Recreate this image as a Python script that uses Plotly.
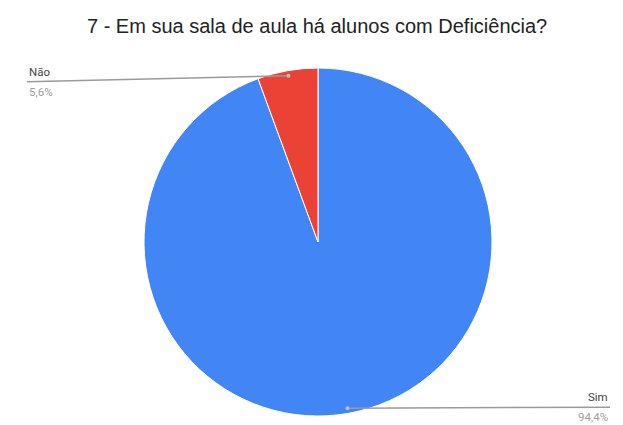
import math
import plotly.graph_objects as go

# Survey answers
labels = ["Sim", "Não"]
values = [94.4, 5.6]
value_text = ["94,4%", "5,6%"]
colors = ["#4285F4", "#EA4335"]

W, H = 623, 425
CX, CY, R = 318, 242, 174  # pie centre / radius in pixels

fig = go.Figure(go.Pie(
    labels=labels, values=values, sort=False, direction="clockwise", rotation=0,
    marker=dict(colors=colors, line=dict(color="white", width=1)),
    textinfo="none", hoverinfo="none", showlegend=False,
    domain=dict(x=[(CX - R) / W, (CX + R) / W], y=[(H - CY - R) / H, (H - CY + R) / H]),
))

def px(x, y):
    return x / W, 1 - y / H

shapes, annotations = [], []
total = sum(values)
start = 0.0
for lab, val, txt in zip(labels, values, value_text):
    mid = (start + val / 2) / total * 2 * math.pi
    start += val
    dx, dy = math.sin(mid), -math.cos(mid)
    ax, ay = CX + 0.97 * R * dx, CY + 0.97 * R * dy
    if dx < 0:
        ex, ey, anchor = 27, ay + 6, "left"
    else:
        ex, ey, anchor = 610, ay - 1, "right"
    x0, y0 = px(ax, ay)
    x1, y1 = px(ex, ey)
    shapes.append(dict(type="line", xref="paper", yref="paper", x0=x0, y0=y0, x1=x1, y1=y1,
                       line=dict(color="#9a9a9a", width=1.5)))
    r = 2
    shapes.append(dict(type="circle", xref="paper", yref="paper",
                       x0=(ax - r) / W, x1=(ax + r) / W, y0=1 - (ay + r) / H, y1=1 - (ay - r) / H,
                       fillcolor="#bdbdbd", line=dict(width=0)))
    annotations.append(dict(x=ex / W, y=1 - (ey - 1) / H, xref="paper", yref="paper",
                            text=lab, showarrow=False, xanchor=anchor, yanchor="bottom",
                            font=dict(family="Roboto", size=11.5, color="#444444")))
    annotations.append(dict(x=ex / W, y=1 - (ey + 1) / H, xref="paper", yref="paper",
                            text=txt, showarrow=False, xanchor=anchor, yanchor="top",
                            font=dict(family="Roboto", size=11.5, color="#a0a0a0")))

fig.update_layout(
    width=W, height=H, margin=dict(l=0, r=0, t=0, b=0),
    paper_bgcolor="white", plot_bgcolor="white",
    title=dict(text="7 - Em sua sala de aula há alunos com Deficiência?", x=0.509, xanchor="center",
               y=1 - 26 / H, yanchor="middle",
               font=dict(family="Liberation Sans", size=20, color="#222222")),
    shapes=shapes, annotations=annotations,
)

fig.write_html("out.html")
